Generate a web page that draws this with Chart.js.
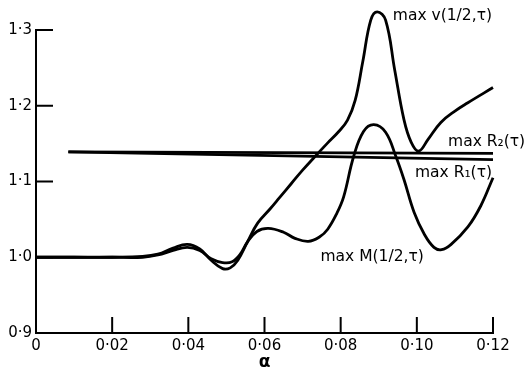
<!DOCTYPE html>
<html>
<head>
<meta charset="utf-8">
<script src="https://cdn.jsdelivr.net/npm/chart.js@4/dist/chart.umd.min.js"></script>
<style>
  body { margin: 0; background: #fff; }
  #wrap { width: 524px; height: 374px; }
</style>
</head>
<body>
<div id="wrap"><canvas id="mycanvas"></canvas></div>
<script>
// alpha values and curve values
var vAlpha = [0, 0.01, 0.02, 0.028, 0.032, 0.036, 0.0397, 0.043, 0.046, 0.049, 0.051, 0.053, 0.0555, 0.0582, 0.0615, 0.064, 0.067, 0.070, 0.074, 0.0766, 0.0795, 0.0818, 0.0838, 0.0858, 0.0879, 0.0896, 0.0918, 0.0942, 0.0966, 0.0985, 0.1005, 0.103, 0.1063, 0.110, 0.1134, 0.12];
var vValue = [1.0, 1.0, 1.0, 1.001, 1.004, 1.012, 1.017, 1.011, 0.996, 0.985, 0.986, 0.996, 1.02, 1.045, 1.064, 1.079, 1.097, 1.115, 1.137, 1.151, 1.166, 1.181, 1.207, 1.258, 1.313, 1.324, 1.313, 1.247, 1.182, 1.152, 1.14, 1.156, 1.178, 1.193, 1.204, 1.224];

var mAlpha = [0, 0.01, 0.02, 0.028, 0.032, 0.036, 0.0397, 0.043, 0.046, 0.049, 0.0515, 0.0535, 0.0555, 0.058, 0.061, 0.065, 0.068, 0.0715, 0.0745, 0.0766, 0.079, 0.0808, 0.0834, 0.086, 0.0887, 0.0918, 0.0945, 0.0966, 0.0993, 0.102, 0.1045, 0.1065, 0.109, 0.1134, 0.1168, 0.12];
var mValue = [1.0, 1.0, 1.0, 1.0, 1.003, 1.009, 1.013, 1.009, 0.998, 0.993, 0.994, 1.003, 1.02, 1.034, 1.038, 1.033, 1.025, 1.021, 1.027, 1.037, 1.058, 1.08, 1.133, 1.166, 1.175, 1.165, 1.133, 1.103, 1.059, 1.03, 1.013, 1.01, 1.017, 1.04, 1.068, 1.105];

var r2Alpha = [0.0085, 0.12];
var r2Value = [1.139, 1.137];
var r1Alpha = [0.0085, 0.12];
var r1Value = [1.139, 1.129];

var xTicks = [0, 0.02, 0.04, 0.06, 0.08, 0.10, 0.12];
var yTicks = [0.9, 1.0, 1.1, 1.2, 1.3];

// curve labels, anchored in data units
var labelText = ['max v(1/2,\u03c4)', 'max R\u2082(\u03c4)', 'max R\u2081(\u03c4)', 'max M(1/2,\u03c4)'];
var labelAlpha = [0.0937, 0.1082, 0.0995, 0.0747];
var labelValue = [1.318, 1.1526, 1.1118, 1.0];

function pts(xs, ys) {
	var out = [];
	for (var i in xs) out.push({x: xs[i], y: ys[i]});
	return out;
}

function dot(v, d) {
	if (v === 0 && d === 2) return '0';
	return v.toFixed(d).replace('.', '\u00b7');
}

var fontName = '"DejaVu Sans", sans-serif';

var innerTicks = {
	id: 'innerTicks',
	afterDraw: function(chart) {
		var ctx = chart.ctx;
		var xs = chart.scales.x, ys = chart.scales.y;
		var area = chart.chartArea;
		ctx.save();
		ctx.strokeStyle = '#000';
		ctx.lineWidth = 2;
		ctx.beginPath();
		xTicks.forEach(function(t) {
			var px = xs.getPixelForValue(t);
			ctx.moveTo(px, area.bottom);
			ctx.lineTo(px, area.bottom - 16);
		});
		yTicks.forEach(function(t) {
			var py = ys.getPixelForValue(t);
			ctx.moveTo(area.left, py);
			ctx.lineTo(area.left + 17, py);
		});
		ctx.stroke();

		ctx.fillStyle = '#000';
		ctx.font = '15.5px ' + fontName;
		ctx.textBaseline = 'middle';
		ctx.textAlign = 'left';
		for (var i in labelText) {
			ctx.fillText(labelText[i], xs.getPixelForValue(labelAlpha[i]), ys.getPixelForValue(labelValue[i]));
		}
		ctx.restore();
	}
};

function lineSet(label, xs, ys, smooth) {
	return {
		label: label,
		data: pts(xs, ys),
		borderColor: '#000',
		borderWidth: 2.8,
		pointRadius: 0,
		fill: false,
		clip: false,
		tension: smooth ? 0.4 : 0
	};
}

var ctx = document.getElementById('mycanvas');

var chart = new Chart(ctx, {
	type: 'line',
	data: {
		datasets: [
			lineSet('max v', vAlpha, vValue, true),
			lineSet('max M', mAlpha, mValue, true),
			lineSet('max R2', r2Alpha, r2Value, false),
			lineSet('max R1', r1Alpha, r1Value, false)
		]
	},
	options: {
		responsive: true,
		maintainAspectRatio: false,
		animation: false,
		layout: { padding: { top: 30, right: 31, left: 0, bottom: 0 } },
		elements: { line: { capBezierPoints: false } },
		plugins: { legend: { display: false }, tooltip: { enabled: false } },
		scales: {
			x: {
				type: 'linear',
				min: 0,
				max: 0.12,
				afterBuildTicks: function(scale) {
					scale.ticks = xTicks.map(function(v) { return {value: v}; });
				},
				afterFit: function(scale) { scale.height = 41; },
				grid: { display: false, drawTicks: false },
				border: { display: true, color: '#000', width: 2 },
				ticks: {
					padding: 4,
					color: '#000',
					font: { family: fontName, size: 15 },
					maxRotation: 0,
					autoSkip: false,
					callback: function(v) { return dot(v, 2); }
				},
				title: {
					display: true,
					text: '\u03b1',
					color: '#000',
					font: { family: fontName, size: 17, weight: 'bold' },
					padding: { top: 0, bottom: 1 }
				}
			},
			y: {
				type: 'linear',
				min: 0.9,
				max: 1.3,
				afterBuildTicks: function(scale) {
					scale.ticks = yTicks.map(function(v) { return {value: v}; });
				},
				afterFit: function(scale) { scale.width = 36; },
				grid: { display: false, drawTicks: false },
				border: { display: true, color: '#000', width: 2 },
				ticks: {
					padding: 4,
					color: '#000',
					font: { family: fontName, size: 15 },
					autoSkip: false,
					callback: function(v) { return dot(v, 1); }
				}
			}
		}
	},
	plugins: [innerTicks]
});
</script>
</body>
</html>
